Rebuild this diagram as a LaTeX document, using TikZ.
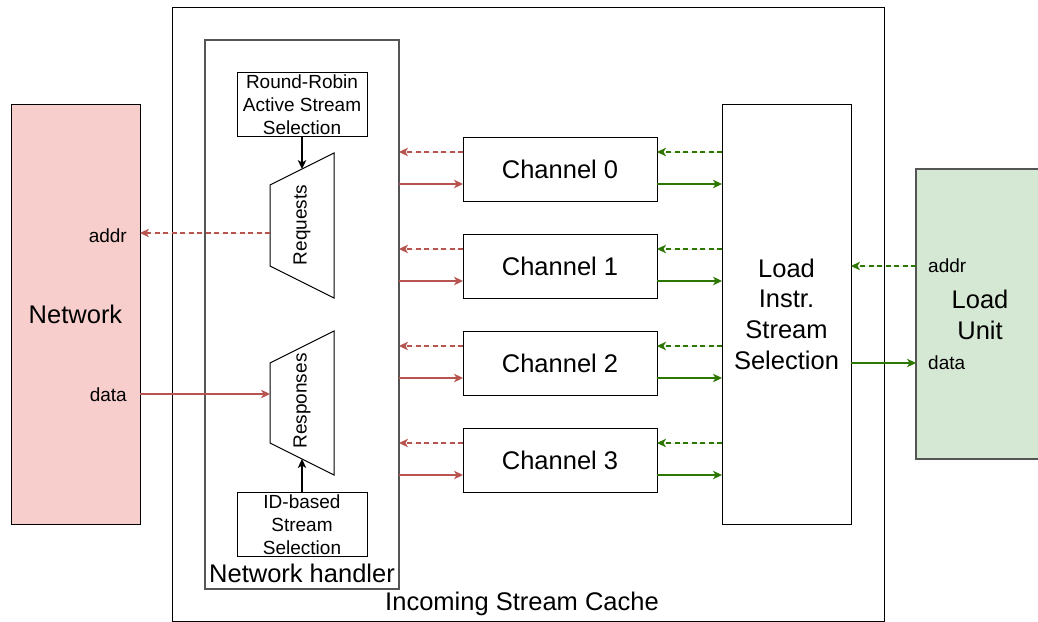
\documentclass[tikz,border=0pt]{standalone}
\usepackage{fontspec}
\setmainfont{Liberation Sans}
\usetikzlibrary{arrows.meta,calc}

\definecolor{netred}{HTML}{B85450}
\definecolor{netfill}{HTML}{F8CECC}
\definecolor{lugreen}{HTML}{2D7600}
\definecolor{lufill}{HTML}{D5E8D4}
\definecolor{framegray}{HTML}{555555}

\tikzset{
  block/.style={draw=black, line width=1pt, inner sep=0pt, outer sep=0pt, align=center,
    font=\fontsize{25.5}{30.6}\selectfont},
  smallblock/.style={block, font=\fontsize{19}{23}\selectfont},
  biglabel/.style={inner sep=0pt, font=\fontsize{25.5}{30.6}\selectfont},
  smalllabel/.style={inner sep=0pt, font=\fontsize{19}{23}\selectfont},
  tip/.style={-{Stealth[length=9pt,width=8.5pt,inset=2.5pt]}},
  redflow/.style={tip, draw=netred, fill=netred, line width=1.1pt},
  greenflow/.style={tip, draw=lugreen, fill=lugreen, line width=1.1pt},
  ctrlflow/.style={tip, draw=black, fill=black, line width=1.1pt},
  request/.style={dash pattern=on 5pt off 3.5pt},
}

\begin{document}
\begin{tikzpicture}[x=1pt,y=-1pt]
\useasboundingbox (0,0) rectangle (1038,621);

% Incoming stream cache frame
\node[block, minimum width=712pt, minimum height=614.5pt, anchor=north west] (cache) at (172,7) {};
\node[biglabel] (cachelabel) at (522,604) {Incoming Stream Cache};

% Network handler frame
\node[block, draw=framegray, line width=1.2pt, minimum width=194pt, minimum height=549pt, anchor=north west] (handler) at (205,40) {};
\node[biglabel] (handlerlabel) at (302,573) {Network handler};

% Stream selectors
\node[smallblock, minimum width=130pt, minimum height=64pt] (rr) at (302,104.5)
  {Round-Robin\\Active Stream\\Selection};
\node[smallblock, minimum width=130pt, minimum height=64pt] (idb) at (302,524.5)
  {ID-based\\Stream\\Selection};

% Request and response multiplexers
\coordinate (rq-tl) at (270,185);
\coordinate (rq-tr) at (334,153);
\coordinate (rq-br) at (334,298);
\coordinate (rq-bl) at (270,266);
\draw[line width=1pt, line join=miter] (rq-tl) -- (rq-tr) -- (rq-br) -- (rq-bl) -- cycle;
\node[smalllabel, rotate=90] (rqtext) at (302,225) {Requests};
\coordinate (rq-top) at (302,169);
\coordinate (rq-out) at (270,233);

\coordinate (rs-tl) at (270,363);
\coordinate (rs-tr) at (334,331);
\coordinate (rs-br) at (334,475);
\coordinate (rs-bl) at (270,443);
\draw[line width=1pt, line join=miter] (rs-tl) -- (rs-tr) -- (rs-br) -- (rs-bl) -- cycle;
\node[smalllabel, rotate=90] (rstext) at (302,401) {Responses};
\coordinate (rs-bottom) at (302,459);
\coordinate (rs-in) at (270,394);

\draw[ctrlflow] (rr.south) -- (rq-top);
\draw[ctrlflow] (idb.north) -- (rs-bottom);

% Channels
\foreach \k in {0,...,3}{
  \node[block, minimum width=194pt, minimum height=64pt] (ch\k) at (560,{169+97*\k}) {Channel \k};
}

% Load instruction stream selection
\node[block, minimum width=129pt, minimum height=420pt] (lis) at (786.5,314)
  {Load\\Instr.\\Stream\\Selection};

% Network
\node[block, fill=netfill, minimum width=129pt, minimum height=420pt] (net) at (75.5,314) {};
\node[biglabel] (nettext) at (75.5,314) {Network};
\node[smalllabel, anchor=east] (netaddr) at (127,236) {addr};
\node[smalllabel, anchor=east] (netdata) at (127,395) {data};

% Load unit
\node[block, draw=framegray, line width=1.2pt, fill=lufill, minimum width=129pt, minimum height=290pt, anchor=north west] (lu) at (916,169) {};
\node[biglabel, align=center] (lutext) at (980,315) {Load\\Unit};
\node[smalllabel, anchor=west] (luaddr) at (928,266) {addr};
\node[smalllabel, anchor=west] (ludata) at (928,363) {data};

% Channel connections
\foreach \k in {0,...,3}{
  \coordinate (cd\k) at ([yshift=-15pt]ch\k.north west);
  \coordinate (cs\k) at ([yshift=-47pt]ch\k.north west);
  \coordinate (gd\k) at ([yshift=-15pt]ch\k.north east);
  \coordinate (gs\k) at ([yshift=-47pt]ch\k.north east);
  \draw[redflow, request] (cd\k) -- (cd\k -| handler.east);
  \draw[redflow] (cs\k -| handler.east) -- (cs\k);
  \draw[greenflow, request] (gd\k -| lis.west) -- (gd\k);
  \draw[greenflow] (gs\k) -- (gs\k -| lis.west);
}

% Network connections
\draw[redflow, request] (rq-out) -- (rq-out -| net.east);
\draw[redflow] (rs-in -| net.east) -- (rs-in);

% Load unit connections
\coordinate (lua) at (lu.west |- luaddr.west);
\coordinate (lud) at (lu.west |- ludata.west);
\draw[greenflow, request] (lua) -- (lua -| lis.east);
\draw[greenflow] (lud -| lis.east) -- (lud);
\end{tikzpicture}
\end{document}
